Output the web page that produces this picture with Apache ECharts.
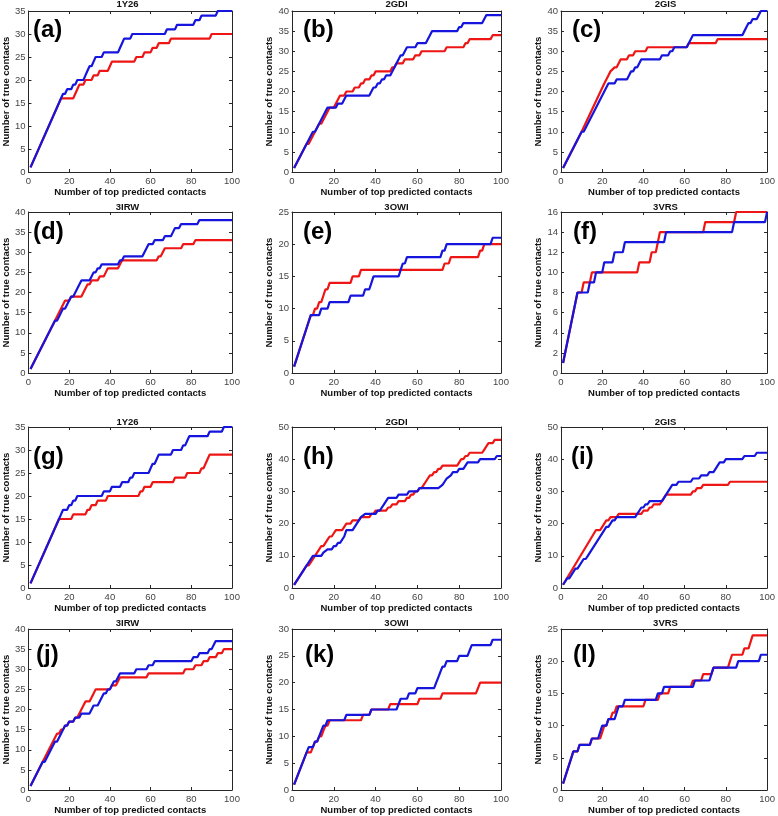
<!DOCTYPE html>
<html><head><meta charset="utf-8">
<script src="https://cdn.jsdelivr.net/npm/echarts@6/dist/echarts.min.js"></script>
<style>html,body{margin:0;padding:0;background:#fff}#c{width:778px;height:816px}</style>
</head><body><div id="c"></div>
<script>
// ---------------- DATA ----------------
const panelLetters = ['(a)','(b)','(c)','(d)','(e)','(f)','(g)','(h)','(i)','(j)','(k)','(l)'];
const panelTitles = ['1Y26','2GDI','2GIS','3IRW','3OWI','3VRS','1Y26','2GDI','2GIS','3IRW','3OWI','3VRS'];
const yMax  = [35,40,40,40,25,16,35,50,50,40,30,25];
const yStep = [5,5,5,5,5,2,5,10,10,5,5,5];
const xMax = 100, xStep = 20;
const xName = 'Number of top predicted contacts';
const yName = 'Number of true contacts';

// vertices [top-k, true contacts] of each curve
const red_a = [[1,1],[16,16],[22,16],[23,17],[24,18],[25,19],[27,19],[28,20],[31,20],[32,21],[34,21],[35,22],[39,22],[40,23],[41,24],[52,24],[53,25],[56,25],[57,26],[60,26],[61,27],[63,27],[64,28],[69,28],[70,29],[89,29],[90,30],[100,30]];
const blue_a = [[1,1],[17,17],[18,17],[19,18],[21,18],[22,19],[23,19],[24,20],[27,20],[28,21],[29,22],[30,23],[31,23],[32,24],[33,25],[36,25],[37,26],[44,26],[45,27],[46,28],[47,29],[50,29],[51,30],[67,30],[68,31],[72,31],[73,32],[81,32],[82,33],[84,33],[85,34],[92,34],[93,35],[100,35]];

const red_b = [[1,1],[7,7],[8,7],[11,10],[12,11],[13,12],[14,12],[15,13],[16,14],[17,15],[18,16],[20,16],[21,17],[22,18],[23,19],[25,19],[26,20],[29,20],[30,21],[32,21],[33,22],[34,22],[35,23],[37,23],[38,24],[39,24],[40,25],[47,25],[48,26],[49,26],[50,27],[53,27],[54,28],[58,28],[59,29],[61,29],[62,30],[73,30],[74,31],[82,31],[83,32],[84,32],[85,33],[95,33],[96,34],[100,34]];
const blue_b = [[1,1],[10,10],[11,10],[17,16],[21,16],[22,17],[24,17],[25,18],[26,19],[37,19],[38,20],[39,21],[40,21],[41,22],[42,22],[43,23],[44,23],[45,24],[47,24],[52,29],[53,29],[54,30],[55,31],[59,31],[60,32],[64,32],[65,33],[66,34],[67,35],[79,35],[80,36],[81,36],[82,37],[91,37],[92,38],[93,39],[100,39]];

const red_c = [[1,1],[10,10],[21,22],[22,23],[23,24],[24,25],[26,26],[27,26],[28,27],[29,28],[32,28],[33,29],[35,29],[36,30],[41,30],[42,31],[61,31],[62,32],[75,32],[76,33],[100,33]];
const blue_c = [[1,1],[10,10],[11,10],[22,21],[23,22],[26,22],[27,23],[32,23],[33,24],[34,25],[35,25],[36,26],[37,26],[38,27],[39,28],[48,28],[49,29],[52,29],[53,30],[54,30],[55,31],[61,31],[62,32],[63,33],[64,34],[88,34],[89,35],[90,36],[91,37],[92,37],[93,38],[95,38],[96,39],[97,40],[100,40]];

const red_d = [[1,1],[13,13],[18,18],[20,18],[21,19],[26,19],[27,20],[28,21],[29,22],[30,22],[31,23],[34,23],[35,24],[37,24],[38,25],[39,26],[44,26],[45,27],[46,28],[63,28],[64,29],[65,29],[66,30],[67,31],[75,31],[76,32],[81,32],[82,33],[100,33]];
const blue_d = [[1,1],[13,13],[14,13],[15,14],[16,15],[17,16],[18,16],[19,17],[20,18],[21,19],[22,19],[23,20],[24,21],[25,22],[26,23],[30,23],[31,24],[32,25],[33,25],[34,26],[35,26],[36,27],[44,27],[45,28],[46,28],[47,29],[56,29],[57,30],[58,31],[59,32],[61,32],[62,33],[66,33],[67,34],[70,34],[71,35],[72,36],[74,36],[75,37],[83,37],[84,38],[100,38]];

const red_e = [[1,1],[8,8],[9,9],[10,9],[11,10],[12,10],[13,11],[14,11],[15,12],[16,13],[17,13],[18,14],[28,14],[29,15],[32,15],[33,16],[72,16],[73,17],[75,17],[76,18],[89,18],[90,19],[91,19],[92,20],[100,20]];
const blue_e = [[1,1],[8,8],[9,9],[13,9],[14,10],[17,10],[18,11],[27,11],[28,12],[34,12],[35,13],[37,13],[38,14],[39,15],[51,15],[52,16],[53,17],[54,17],[55,18],[71,18],[72,19],[73,19],[74,20],[95,20],[96,21],[100,21]];

const red_f = [[1,1],[8,8],[10,8],[11,9],[14,9],[15,10],[37,10],[38,11],[43,11],[44,12],[46,12],[47,13],[48,14],[69,14],[70,15],[84,15],[85,16],[100,16]];
const blue_f = [[1,1],[8,8],[13,8],[14,9],[16,9],[17,10],[20,10],[21,11],[25,11],[26,12],[30,12],[31,13],[50,13],[51,14],[83,14],[84,15],[99,15],[100,16]];

const red_g = [[1,1],[15,15],[21,15],[22,16],[28,16],[29,17],[30,17],[31,18],[33,18],[34,19],[38,19],[39,20],[54,20],[55,21],[56,21],[57,22],[60,22],[61,23],[71,23],[72,24],[77,24],[78,25],[84,25],[85,26],[86,26],[87,27],[88,28],[89,29],[100,29]];
const blue_g = [[1,1],[15,15],[16,16],[17,17],[19,17],[20,18],[21,18],[22,19],[23,19],[24,20],[36,20],[37,21],[40,21],[41,22],[45,22],[46,23],[49,23],[50,24],[51,24],[52,25],[59,25],[60,26],[61,27],[62,27],[63,28],[64,29],[70,29],[71,30],[75,30],[76,31],[77,31],[78,32],[79,33],[88,33],[89,34],[95,34],[96,35],[100,35]];

const red_h = [[1,1],[6,6],[7,7],[8,7],[11,10],[12,11],[13,12],[14,13],[15,13],[16,14],[17,15],[18,16],[19,16],[20,17],[21,18],[24,18],[25,19],[26,20],[28,20],[29,21],[32,21],[33,22],[37,22],[38,23],[39,23],[40,24],[45,24],[46,25],[47,25],[48,26],[50,26],[51,27],[54,27],[55,28],[56,28],[57,29],[58,29],[59,30],[60,30],[61,31],[62,31],[63,32],[64,33],[65,34],[66,35],[67,35],[68,36],[69,36],[70,37],[71,37],[72,38],[79,38],[80,39],[81,40],[82,40],[83,41],[84,41],[85,42],[91,42],[92,43],[93,44],[94,45],[96,45],[97,46],[100,46]];
const blue_h = [[1,1],[10,10],[14,10],[15,11],[17,12],[19,12],[20,13],[21,13],[22,14],[23,14],[25,16],[26,18],[29,18],[32,21],[33,22],[35,23],[40,23],[41,24],[42,24],[43,25],[44,26],[45,27],[46,28],[50,28],[51,29],[55,29],[56,30],[60,30],[61,31],[70,31],[72,32],[73,33],[74,34],[76,35],[77,36],[79,36],[80,37],[82,37],[83,38],[84,39],[89,39],[90,40],[97,40],[98,41],[100,41]];

const red_i = [[1,1],[17,18],[19,18],[20,19],[22,21],[23,21],[24,22],[27,22],[28,23],[39,23],[40,24],[42,24],[43,25],[44,25],[45,26],[48,26],[49,27],[50,28],[51,29],[63,29],[64,30],[65,30],[66,31],[68,31],[69,32],[81,32],[82,33],[100,33]];
const blue_i = [[1,1],[3,3],[4,3],[6,5],[7,6],[8,6],[11,9],[12,9],[13,10],[21,18],[22,19],[23,19],[24,20],[25,21],[26,21],[27,22],[36,22],[37,23],[38,24],[39,25],[40,25],[41,26],[42,26],[43,27],[49,27],[50,28],[51,29],[52,30],[53,31],[54,32],[56,32],[57,33],[63,33],[64,34],[67,34],[68,35],[71,35],[72,36],[74,36],[75,37],[76,38],[77,39],[79,39],[80,40],[88,40],[89,41],[94,41],[95,42],[100,42]];

const red_j = [[1,1],[7,7],[14,14],[15,14],[16,15],[17,15],[18,16],[19,16],[20,17],[22,17],[23,18],[24,18],[25,19],[26,20],[27,21],[28,22],[30,22],[31,23],[32,24],[33,25],[40,25],[41,26],[43,26],[44,27],[45,28],[58,28],[59,29],[76,29],[77,30],[81,30],[82,31],[85,31],[86,32],[88,32],[89,33],[92,33],[93,34],[95,34],[96,35],[100,35]];
const blue_j = [[1,1],[7,7],[8,7],[10,9],[11,10],[12,11],[13,12],[14,12],[15,13],[16,14],[17,15],[18,16],[19,16],[20,17],[22,17],[23,18],[25,18],[26,19],[30,19],[31,20],[32,21],[34,21],[35,22],[36,23],[37,24],[38,24],[39,25],[40,25],[41,26],[42,27],[43,27],[44,28],[45,29],[52,29],[53,30],[58,30],[59,31],[61,31],[62,32],[80,32],[81,33],[83,33],[84,34],[88,34],[89,35],[90,35],[91,36],[92,37],[100,37]];

const red_k = [[1,1],[7,7],[9,7],[10,8],[11,9],[12,9],[13,10],[14,10],[15,11],[16,12],[17,12],[18,13],[33,13],[34,14],[37,14],[38,15],[46,15],[47,16],[60,16],[61,17],[71,17],[72,18],[88,18],[89,19],[90,20],[100,20]];
const blue_k = [[1,1],[7,7],[8,8],[10,8],[11,9],[12,9],[13,10],[14,11],[15,12],[16,12],[17,13],[25,13],[26,14],[37,14],[38,15],[50,15],[51,16],[52,17],[55,17],[56,18],[59,18],[60,19],[68,19],[69,20],[70,21],[71,22],[72,23],[73,23],[74,24],[79,24],[80,25],[84,25],[85,26],[86,27],[95,27],[96,28],[100,28]];

const red_l = [[1,1],[5,5],[6,6],[8,6],[9,7],[14,7],[15,8],[19,8],[20,9],[21,10],[22,10],[23,11],[24,11],[25,12],[26,12],[27,13],[40,13],[41,14],[47,14],[48,15],[52,15],[53,16],[63,16],[64,17],[68,17],[69,18],[73,18],[74,19],[81,19],[82,20],[83,21],[88,21],[89,22],[91,22],[92,23],[93,24],[100,24]];
const blue_l = [[1,1],[5,5],[6,6],[8,6],[9,7],[14,7],[15,8],[18,8],[19,9],[20,10],[22,10],[23,11],[26,11],[27,12],[28,13],[30,13],[31,14],[46,14],[47,15],[49,15],[50,16],[64,16],[65,17],[72,17],[73,18],[74,19],[85,19],[86,20],[96,20],[97,21],[100,21]];

const redSeries  = [red_a,red_b,red_c,red_d,red_e,red_f,red_g,red_h,red_i,red_j,red_k,red_l];
const blueSeries = [blue_a,blue_b,blue_c,blue_d,blue_e,blue_f,blue_g,blue_h,blue_i,blue_j,blue_k,blue_l];

// ---------------- LAYOUT ----------------
const colLeft = [23, 292, 561];
const rowTop = [11, 212, 427, 629];
const W = 209, H = 161;
const titleY = [4.5, 207.5, 422.5, 623.5];
const labelDX = [[10,11,11],[10,11,12],[10,11,10],[13,13,12]];
const labelDY = [19, 20, 30, 26];
const FONT = '"Liberation Sans", Arial, Helvetica, sans-serif';
const AX = '#262626';
const RED = '#ee1515', BLUE = '#1515dd';

const grid = [], xAxis = [], yAxis = [], series = [], graphic = [];
for (let i = 0; i < 12; i++) {
  const r = Math.floor(i / 3), c = i % 3;
  const L = colLeft[c], T = rowTop[r];
  grid.push({left: L, top: T, width: W, height: H, containLabel: false});
  const line = {show: true, onZero: false, lineStyle: {color: AX, width: 1}};
  const tick = {show: true, inside: true, length: 3, lineStyle: {color: AX, width: 1}};
  const lbl = {fontSize: 9.5, color: '#444', fontFamily: FONT};
  xAxis.push({gridIndex: i, type: 'value', min: 0, max: xMax, interval: xStep, position: 'bottom',
    name: xName, nameLocation: 'middle', nameGap: 15,
    nameTextStyle: {fontSize: 9.5, fontWeight: 'bold', color: '#111', fontFamily: FONT},
    axisLine: line, axisTick: tick, axisLabel: Object.assign({margin: 4}, lbl), splitLine: {show: false}});
  xAxis.push({gridIndex: i, type: 'value', min: 0, max: xMax, interval: xStep, position: 'top',
    axisLine: line, axisTick: tick, axisLabel: {show: false}, splitLine: {show: false}});
  yAxis.push({gridIndex: i, type: 'value', min: 0, max: yMax[i], interval: yStep[i], position: 'left',
    name: yName, nameLocation: 'middle', nameGap: 12,
    nameTextStyle: {fontSize: 9.5, fontWeight: 'bold', color: '#111', fontFamily: FONT},
    axisLine: line, axisTick: tick, axisLabel: Object.assign({margin: 3}, lbl), splitLine: {show: false}});
  yAxis.push({gridIndex: i, type: 'value', min: 0, max: yMax[i], interval: yStep[i], position: 'right',
    axisLine: line, axisTick: tick, axisLabel: {show: false}, splitLine: {show: false}});
  series.push({type: 'line', xAxisIndex: 2 * i, yAxisIndex: 2 * i, data: redSeries[i],
    showSymbol: false, clip: false, lineStyle: {color: RED, width: 2.2}, z: 3, silent: true, animation: false});
  series.push({type: 'line', xAxisIndex: 2 * i, yAxisIndex: 2 * i, data: blueSeries[i],
    showSymbol: false, clip: false, lineStyle: {color: BLUE, width: 2.2}, z: 4, silent: true, animation: false});
  graphic.push({type: 'text', x: L + W / 2, y: titleY[r],
    style: {text: panelTitles[i], fontSize: 9.5, fontWeight: 'bold', fontFamily: FONT, fill: '#111', align: 'center', verticalAlign: 'middle'}});
  graphic.push({type: 'text', x: L + labelDX[r][c], y: T + labelDY[r],
    style: {text: panelLetters[i], fontSize: 24, fontWeight: 'bold', fontFamily: FONT, fill: '#000', align: 'left', verticalAlign: 'middle'}});
}

const chart = echarts.init(document.getElementById('c'), null, {renderer: 'canvas'});
chart.setOption({backgroundColor: '#fff', animation: false, grid, xAxis, yAxis, series, graphic});
</script></body></html>
